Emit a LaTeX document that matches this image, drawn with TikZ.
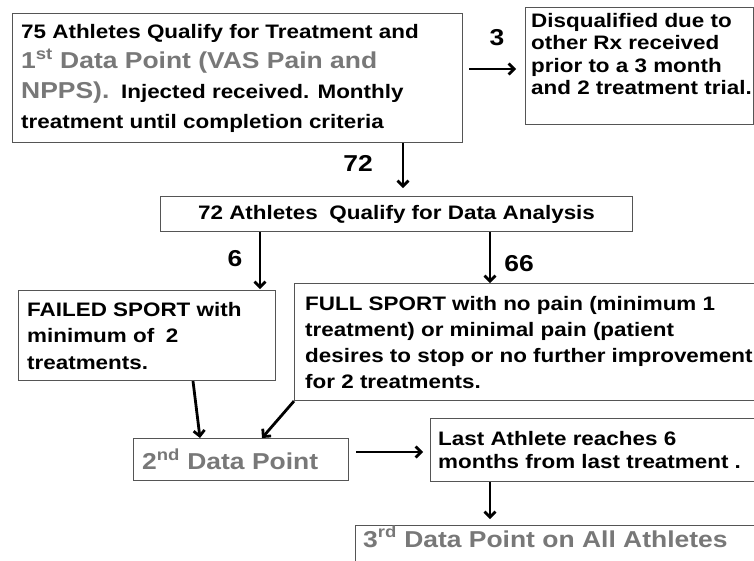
\documentclass[tikz,border=0pt]{standalone}
\usepackage{fontspec}
\setmainfont[FakeStretch=1.15]{Liberation Sans}
\usetikzlibrary{arrows.meta}
\definecolor{tgray}{RGB}{120,120,120}
\definecolor{bgray}{RGB}{85,85,85}
\newcommand{\grtext}[1]{{\color{tgray}\fontsize{23}{30}\selectfont #1}}
\begin{document}
\begin{tikzpicture}[x=1pt,y=-1pt,
  boxs/.style={draw=bgray, line width=1.1pt, anchor=north west, inner sep=0pt},
  txt/.style={anchor=west, align=left, inner sep=0pt, font=\bfseries\fontsize{19.5}{22.5}\selectfont},
  gtxt/.style={inner sep=0pt, text=tgray, font=\bfseries\fontsize{23}{23}\selectfont},
  arr/.style={line width=2.8pt, -{Straight Barb[length=5.5pt,width=11pt]}},
  lbl/.style={inner sep=0pt, font=\bfseries\fontsize{23}{23}\selectfont}]
\useasboundingbox (0,0) rectangle (754,561);
\clip (0,0) rectangle (754,561);
\fill[white] (0,0) rectangle (754,561);
% boxes
\node[boxs, minimum width=450pt, minimum height=129pt] (b1) at (12,13) {};
\node[boxs, minimum width=228pt, minimum height=117pt] (b2) at (525,7) {};
\node[boxs, minimum width=472pt, minimum height=35pt] (b3) at (160,196) {};
\node[boxs, minimum width=257pt, minimum height=90pt] (b4) at (18,290) {};
\node[boxs, minimum width=480pt, minimum height=117pt] (b5) at (294,283) {};
\node[boxs, minimum width=215pt, minimum height=42pt] (b6) at (133,438) {};
\node[boxs, minimum width=340pt, minimum height=63pt] (b7) at (430,418) {};
\node[boxs, minimum width=420pt, minimum height=80pt] (b8) at (355,525) {};
% texts
\node[txt, font=\bfseries\fontsize{19.5}{30}\selectfont] (t1) at ([xshift=9pt]b1.west)
  {75 Athletes Qualify for Treatment and\\
   \grtext{1\textsuperscript{st} Data Point (VAS Pain and}\\
   \grtext{NPPS).}\hspace{0.6em}Injected received. Monthly\\
   treatment until completion criteria};
\node[txt] (t2) at ([xshift=6pt,yshift=12pt]b2.west)
  {Disqualified due to\\ other Rx received\\ prior to a 3 month\\ and 2 treatment trial.};
\node[txt, anchor=center] (t3) at (b3.center) {72 Athletes\hspace{0.6em}Qualify for Data Analysis};
\node[txt, font=\bfseries\fontsize{19.5}{26.5}\selectfont] (t4) at ([xshift=9pt]b4.west)
  {FAILED SPORT with\\ minimum of\hspace{0.6em}2\\ treatments.};
\node[txt, font=\bfseries\fontsize{19.5}{26}\selectfont] (t5) at ([xshift=11pt]b5.west)
  {FULL SPORT with no pain (minimum 1\\ treatment) or minimal pain (patient\\
   desires to stop or no further improvement\\ for 2 treatments.};
\node[gtxt, anchor=west] (t6) at ([xshift=9pt]b6.west) {2\textsuperscript{nd} Data Point};
\node[txt] (t7) at ([xshift=8pt]b7.west) {Last Athlete reaches 6\\ months from last treatment .};
\node[gtxt, anchor=base west] (t8) at ([shift={(8,22)}]b8.north west) {3\textsuperscript{rd} Data Point on All Athletes};
% labels
\node[lbl] (l3) at (497,38) {3};
\node[lbl] (l72) at (358,163) {72};
\node[lbl] (l6) at (235,259) {6};
\node[lbl] (l66) at (519,264) {66};
% arrows
\draw[arr] (b1.north east) ++(6,56) -- ++(47,0);
\draw[arr] (b1.south west) ++(391,0) -- ++(0,45);
\draw[arr] (b3.south west) ++(100,0) -- ++(0,57);
\draw[arr] (b3.south west) ++(330,0) -- ++(0,51);
\draw[arr] (b4.south west) ++(175,0) -- ([xshift=67pt]b6.north west);
\draw[arr] (b5.south west) -- ([xshift=129pt]b6.north west);
\draw[arr] (b6.north east) ++(7,14) -- ++(67,0);
\draw[arr] (b7.south west) ++(60,0) -- ++(0,37);
\end{tikzpicture}
\end{document}
